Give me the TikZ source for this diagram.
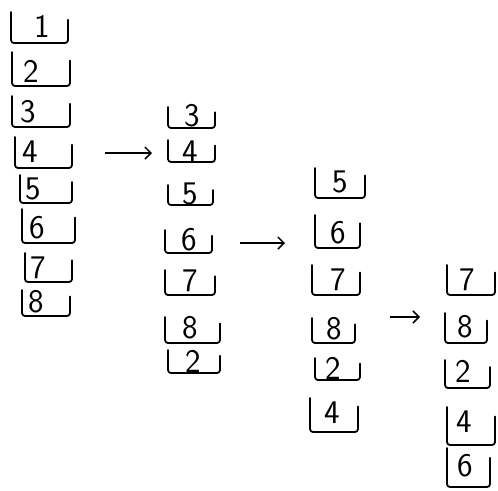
\documentclass[tikz,border=0pt]{standalone}
\usetikzlibrary{arrows.meta}
\tikzset{
  bracket/.style={line width=1.8pt, line join=round, line cap=round, rounded corners=3pt},
  digit/.style={font=\fontsize{33}{33}\selectfont\sffamily, inner sep=0pt},
  flow/.style={line width=1.5pt, -{Straight Barb[length=6pt,width=12pt]}}
}
% \stackbox{name}{left}{top}{right}{bottom}{text x}{text y}{digit}
\newcommand{\stackbox}[8]{%
  \draw[bracket] (#2,#3) -- (#2,#5) -- (#4,#5) -- (#4,{#5-0.75*(#5-#3)});
  \node[digit] (#1) at (#6,#7) {#8};
}
\begin{document}
\begin{tikzpicture}[x=1pt,y=-1pt]
\useasboundingbox (0,0) rectangle (498,490);
% column 1
\stackbox{a1}{11}{12}{68}{43}{42}{26}{1}
\stackbox{a2}{12}{52}{70}{86}{31}{71}{2}
\stackbox{a3}{12}{96}{70}{127}{28}{112}{3}
\stackbox{a4}{15}{137}{72}{168}{30}{152}{4}
\stackbox{a5}{20}{175}{72}{203}{33}{189}{5}
\stackbox{a6}{22}{209}{75}{243}{37}{228}{6}
\stackbox{a7}{25}{253}{72}{282}{38}{268}{7}
\stackbox{a8}{22}{290}{70}{316}{36}{302}{8}
% column 2
\stackbox{b3}{168}{107}{215}{128}{192}{116}{3}
\stackbox{b4}{168}{140}{215}{162}{190}{152}{4}
\stackbox{b5}{168}{185}{213}{205}{190}{194}{5}
\stackbox{b6}{165}{230}{212}{253}{189}{240}{6}
\stackbox{b7}{165}{270}{215}{295}{190}{281}{7}
\stackbox{b8}{165}{317}{220}{343}{190}{328}{8}
\stackbox{b2}{168}{350}{220}{373}{193}{361}{2}
% column 3
\stackbox{c5}{315}{168}{365}{198}{340}{182}{5}
\stackbox{c6}{315}{215}{360}{248}{338}{233}{6}
\stackbox{c7}{312}{265}{360}{295}{338}{280}{7}
\stackbox{c8}{312}{318}{355}{343}{334}{329}{8}
\stackbox{c2}{315}{358}{360}{380}{333}{368}{2}
\stackbox{c4}{310}{398}{358}{432}{332}{413}{4}
% column 4
\stackbox{d7}{447}{265}{495}{295}{467}{280}{7}
\stackbox{d8}{445}{313}{487}{343}{465}{327}{8}
\stackbox{d2}{445}{360}{490}{388}{463}{371}{2}
\stackbox{d4}{447}{407}{495}{445}{464}{422}{4}
\stackbox{d6}{447}{448}{490}{487}{465}{466}{6}
% arrows
\coordinate (p1s) at (105,153); \coordinate (p1e) at (152,153);
\coordinate (p2s) at (240,243); \coordinate (p2e) at (285,243);
\coordinate (p3s) at (390,317); \coordinate (p3e) at (420,317);
\draw[flow] (p1s) -- (p1e);
\draw[flow] (p2s) -- (p2e);
\draw[flow] (p3s) -- (p3e);
\end{tikzpicture}
\end{document}
